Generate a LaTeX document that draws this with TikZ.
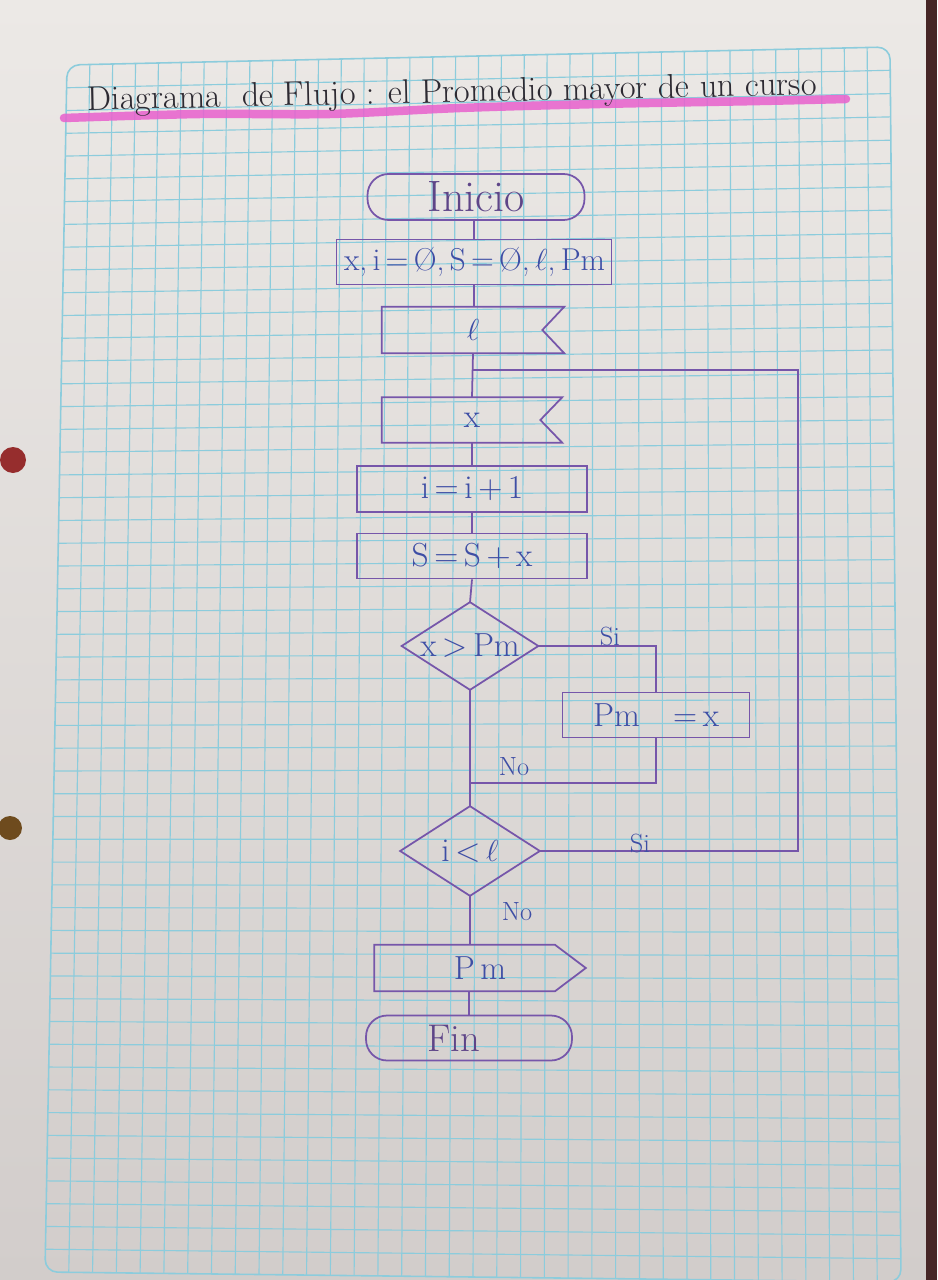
\documentclass[tikz,border=0pt]{standalone}
\usetikzlibrary{calc}
\definecolor{paper}{RGB}{236,233,230}
\definecolor{paperlow}{RGB}{210,205,203}
\definecolor{gridc}{RGB}{140,204,220}
\definecolor{ink}{RGB}{118,86,170}
\definecolor{txtblue}{RGB}{62,78,165}
\definecolor{titlec}{RGB}{45,42,50}
\definecolor{hlpink}{RGB}{232,96,205}
\definecolor{holered}{RGB}{150,45,45}
\definecolor{holebrown}{RGB}{110,75,30}
\definecolor{edgedark}{RGB}{70,38,38}
\begin{document}
\begin{tikzpicture}[x=0.02cm,y=-0.02cm,
  inkline/.style={draw=ink, line width=1pt},
  gridline/.style={draw=gridc, line width=0.65pt},
  boxtext/.style={text=txtblue, font=\fontsize{19}{22}\selectfont},
  procbox/.style={boxtext, inkline, rectangle, minimum height=0.9cm},
  termbox/.style={inkline, rectangle, rounded corners=0.42cm, minimum height=0.92cm, text=ink!80!black, font=\fontsize{25}{28}\selectfont},
  ghost/.style={boxtext, rectangle, inner sep=0pt},
  lbl/.style={text=txtblue, font=\fontsize{15}{18}\selectfont}
]
\useasboundingbox (0,0) rectangle (937,1280);
% paper background
\shade[top color=paper, bottom color=paperlow] (0,0) rectangle (937,1280);
\fill[edgedark] (926,0) rectangle (937,1280);
% punch holes
\fill[holered] (13,460) circle (13);
\fill[holebrown] (10,828) circle (12);
% grid (slightly skewed quadrilateral)
\coordinate (TL) at (67,65);
\coordinate (TR) at (890,47);
\coordinate (BL) at (45,1272);
\coordinate (BR) at (901,1282);
\foreach \i in {1,...,35}{
  \pgfmathsetmacro\t{\i/36}
  \draw[gridline] ($(TL)!\t!(TR)$) -- ($(BL)!\t!(BR)$);
}
\foreach \j in {1,...,52}{
  \pgfmathsetmacro\t{\j/53}
  \draw[gridline] ($(TL)!\t!(BL)$) -- ($(TR)!\t!(BR)$);
}
\draw[gridline, line width=0.9pt, rounded corners=0.25cm] (TL) -- (TR) -- (BR) -- (BL) -- cycle;
% title with highlight
\draw[hlpink, line width=0.17cm, opacity=0.85, line cap=round] plot[smooth] coordinates {(64,118) (200,114) (330,114) (460,108) (600,104) (760,101) (846,99)};
\node[text=titlec, font=\fontsize{19.5}{23}\selectfont, rotate=1.2, inner sep=0pt] (title) at (452,94) {Diagrama\ \ de Flujo : el Promedio mayor de un curso};
% flowchart nodes
\node[termbox, minimum width=4.34cm] (inicio) at (476,197) {Inicio};
\node[procbox, minimum width=5.5cm, text width=5.2cm, align=center, font=\fontsize{18}{21}\selectfont] (init) at (474,262) {x,\,i\,=\,Ø,\,S\,=\,Ø,\,$\ell$,\,Pm};
\node[ghost, minimum width=3.64cm, minimum height=0.92cm] (readl) at (473,330) {$\ell$};
\draw[inkline] (readl.north east) -- (readl.north west) -- (readl.south west) -- (readl.south east) -- ($(readl.east)+(-22,0)$) -- cycle;
\node[ghost, minimum width=3.6cm, minimum height=0.9cm] (readx) at (472,420) {x};
\draw[inkline] (readx.north east) -- (readx.north west) -- (readx.south west) -- (readx.south east) -- ($(readx.east)+(-22,0)$) -- cycle;
\node[procbox, minimum width=4.6cm, minimum height=0.92cm] (inc) at (472,489) {i\,=\,i\,+\,1};
\node[procbox, minimum width=4.6cm] (sum) at (472,556) {S\,=\,S\,+\,x};
\node[ghost, minimum width=2.72cm, minimum height=1.74cm] (d1) at (470,646) {x\,>\,Pm};
\draw[inkline] (d1.north) -- (d1.east) -- (d1.south) -- (d1.west) -- cycle;
\node[procbox, minimum width=3.74cm] (pmx) at (656,715) {Pm\quad=\,x};
\node[ghost, minimum width=2.78cm, minimum height=1.78cm] (d2) at (470,851) {i\,<\,$\ell$};
\draw[inkline] (d2.north) -- (d2.east) -- (d2.south) -- (d2.west) -- cycle;
\node[ghost, minimum width=4.22cm, minimum height=0.92cm] (out) at (480,968) {P\,m};
\draw[inkline] (out.north west) -- ($(out.north east)+(-31,0)$) -- (out.east) -- ($(out.south east)+(-31,0)$) -- (out.south west) -- cycle;
\node[termbox, minimum width=4.12cm, minimum height=0.9cm, font=\fontsize{22}{26}\selectfont] (fin) at (469,1038) {Fin\rule{0.6cm}{0pt}};
% connectors
\coordinate (j1) at (470,783);
\coordinate (j2) at (473,370);
\coordinate (loopR) at (798,370);
\draw[inkline] (inicio.south -| init.north) -- (init.north);
\draw[inkline] (init.south) -- (readl.north -| init.south);
\draw[inkline] (readl.south) -- (readx.north);
\draw[inkline] (readx.south) -- (inc.north);
\draw[inkline] (inc.south) -- (sum.north);
\draw[inkline] (sum.south) -- (d1.north);
\draw[inkline] (d1.south) -- (d2.north);
\draw[inkline] (d1.east) -| (pmx.north);
\draw[inkline] (pmx.south) |- (j1);
\draw[inkline] (d2.east) -| (loopR) -- (j2);
\draw[inkline] (d2.south) -- (out.north -| d2.south);
\draw[inkline] (out.south -| fin.north) -- (fin.north);
% labels
\node[lbl] (si1) at (610,636) {Si};
\node[lbl] (no1) at (514,767) {No};
\node[lbl] (si2) at (640,843) {Si};
\node[lbl] (no2) at (517,912) {No};
\end{tikzpicture}
\end{document}
